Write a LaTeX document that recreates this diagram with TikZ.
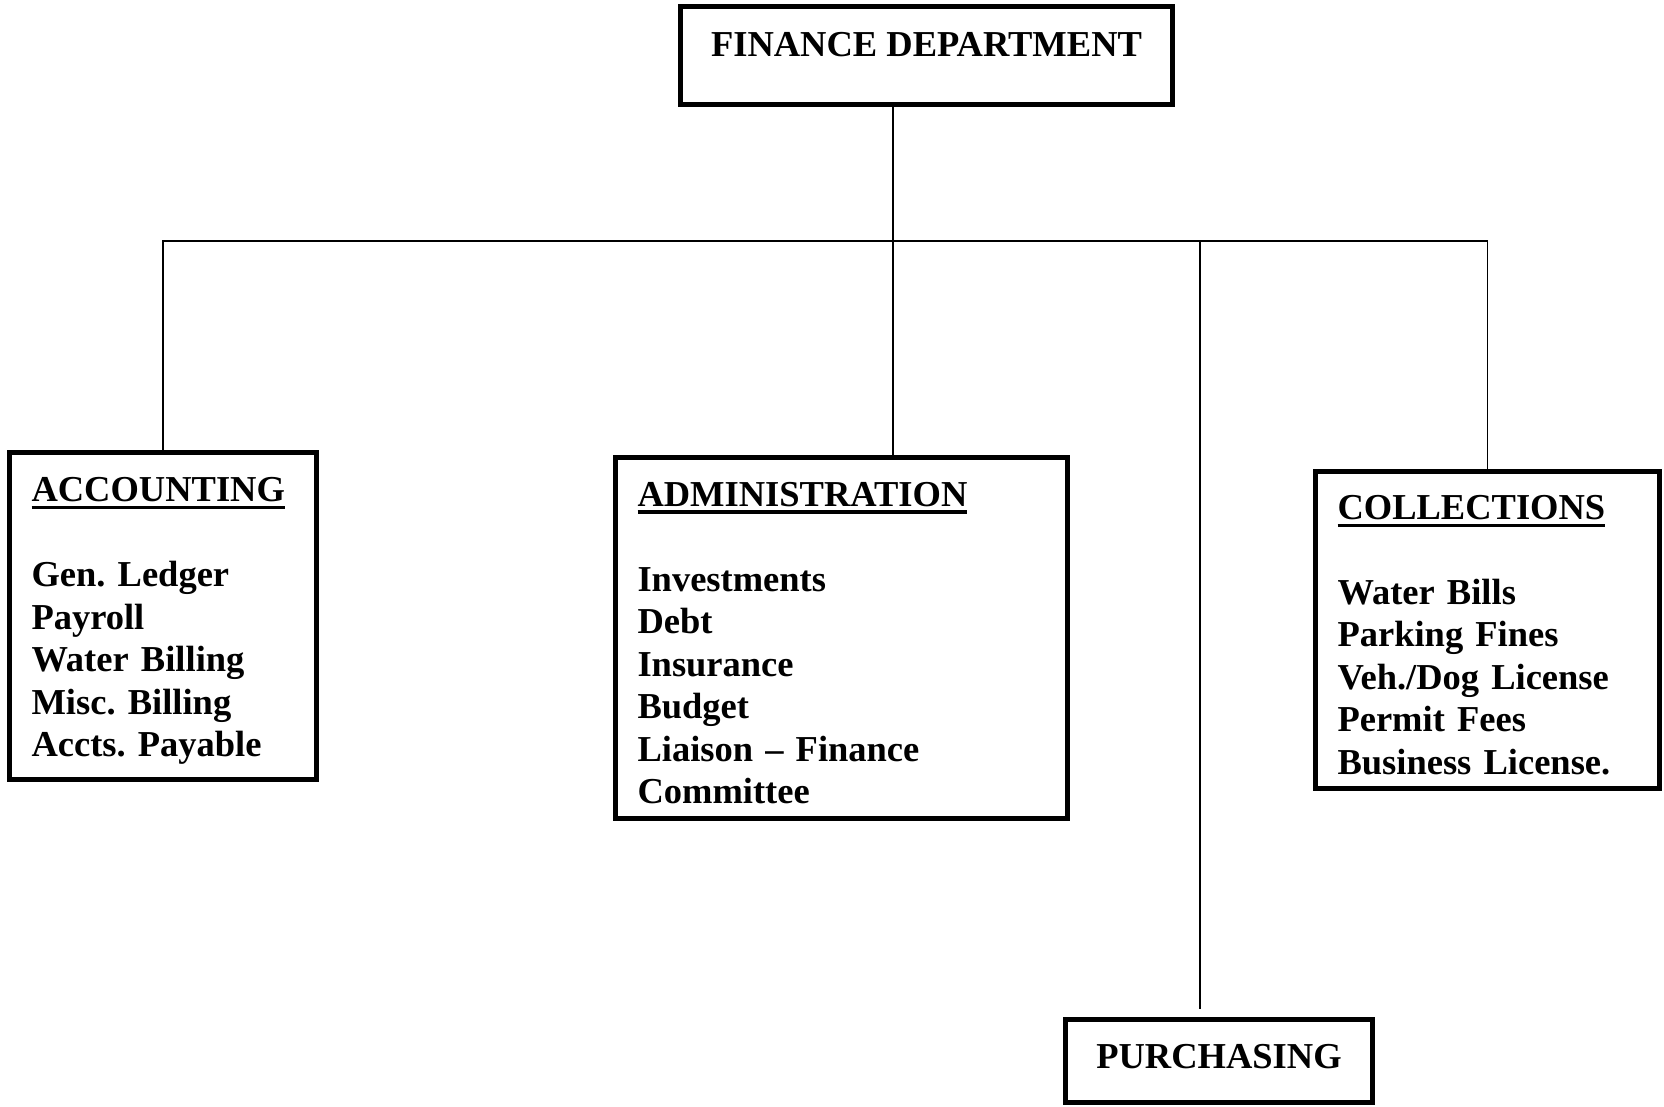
\documentclass[tikz,border=0pt]{standalone}
\usepackage{fontspec}
\setmainfont{Liberation Serif}
\newcommand\deptline[1]{\setbox0\hbox{#1}\rlap{\rule[-7.5pt]{\wd0}{3.2pt}}\box0}
\frenchspacing
\begin{document}
\begin{tikzpicture}
      [x=1pt,y=-1pt,
       every node/.style={font=\fontsize{36.5}{42.5}\selectfont\bfseries},
       unit/.style={draw,line width=5pt,anchor=north west,align=left,inner xsep=22pt,inner ysep=0pt},
       head/.style={draw,line width=5pt,anchor=north west,inner sep=0pt},
       link/.style={line width=1.8pt}]
      \useasboundingbox (0,0) rectangle (1664,1107);

      \node [head, minimum width=492pt, text height=50.5pt, text depth=47.5pt] (fin) at (678,4) {FINANCE DEPARTMENT};
      \node [unit, text width=263pt, minimum width=307pt, minimum height=327pt] (acct) at (7,450)
        {\rule{0pt}{34pt}\deptline{ACCOUNTING}\\[\baselineskip]Gen. Ledger\\Payroll\\Water Billing\\Misc. Billing\\Accts. Payable};
      \node [unit, text width=408pt, minimum width=452pt, minimum height=361pt] (admin) at (613,455)
        {\rule{0pt}{34pt}\deptline{ADMINISTRATION}\\[\baselineskip]Investments\\Debt\\Insurance\\Budget\\Liaison -- Finance\\Committee};
      \node [unit, text width=300pt, minimum width=344pt, minimum height=317pt] (coll) at (1313,469)
        {\rule{0pt}{34pt}\deptline{COLLECTIONS}\\[\baselineskip]Water Bills\\Parking Fines\\Veh./Dog License\\Permit Fees\\Business License.};
      \node [head, minimum width=307pt, text height=48.5pt, text depth=34.5pt] (purch) at (1063,1017) {PURCHASING};

      \coordinate (hub) at (893,241);
      \coordinate (pjoin) at (1200,241);
      \draw [link] (fin.south -| hub) -- (admin.north -| hub);
      \draw [link] (acct.north) |- (hub) -| (coll.north);
      \draw [link] (pjoin) -- ([yshift=8pt]purch.north -| pjoin);
\end{tikzpicture}
\end{document}
